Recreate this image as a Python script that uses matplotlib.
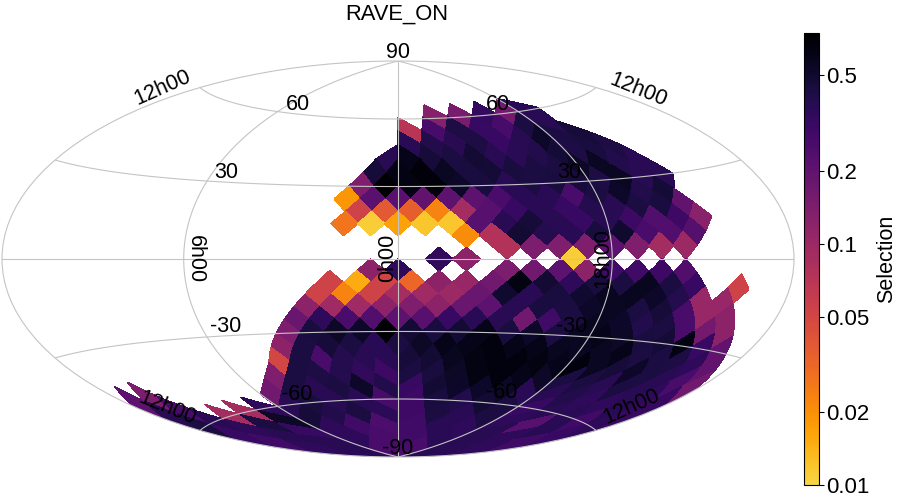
import numpy as np
import matplotlib
matplotlib.use('Agg')
import matplotlib.pyplot as plt
from matplotlib.collections import PolyCollection
from matplotlib.colors import LinearSegmentedColormap, LogNorm

plt.rcParams['font.family'] = ['Liberation Sans', 'DejaVu Sans']

N = 8
nan = float('nan')

# selection per healpix ring, read left to right across the map
# ring_first = index of the first filled pixel of that ring
ring_first = {5: 11, 6: 12, 7: 14, 8: 15, 9: 15, 10: 14, 11: 14, 12: 14, 13: 14, 14: 18, 15: 20, 16: 17,
              17: 15, 18: 13, 19: 13, 20: 12, 21: 12, 22: 11, 23: 11, 24: 10, 25: 0, 26: 0, 27: 0, 28: 0,
              29: 0, 30: 0, 31: 0}
ring_05 = [.13, .15, .33, .16, .37]
ring_06 = [.07, .27, .42, .32, .27, .44, .38]
ring_07 = [.37, .4, .38, .42, .32, .38, .52, .44, .46]
ring_08 = [.38, .6, .46, .44, .48, .38, .37, .4, .47, .42, .45, .42]
ring_09 = [.46, .62, .68, .56, .45, .47, .45, .44, .44, .54, .56, .40, .37]
ring_10 = [.14, .72, .64, .68, .52, .45, .38, .44, .45, .46, .42, .56, .38, .38]
ring_11 = [.019, .22, .22, .2, .21, .21, .26, .37, .37, .26, .44, .52, .4, .47]
ring_12 = [.053, .038, .035, .023, .09, .225, .32, .37, .32, .39, .38, .44, .45, .2]
ring_13 = [.027, .011, .017, .012, .012, .225, .38, .46, .38, .32, .38, .30, .24, .30, .125]
ring_14 = [.021, .075, .48, .39, .37, .45, .5, .26, .24, .23]
ring_15 = [.075, .145, .14, .14, .21, .14, .09, .1]
ring_16 = [.34, .12, nan, nan, nan, .011]
ring_17 = [.12, .35, nan, nan, nan, .145, .165, .21, .12, .29, .29, .30, .24]
ring_18 = [.053, .015, .053, .032, .12, .105, .165, .64, .48, .35, .45, .44, .57, .44, .32, nan, .053]
ring_19 = [.053, .023, .053, .087, .095, .1, .18, .5, .37, .45, .5, .57, .57, .52, .39, .105, .105]
ring_20 = [.12, .095, .095, .12, .14, .12, .18, .21, .38, .45, .44, .52, .56, .44, .46, .26, .105, .12]
ring_21 = [.18, .35, .26, .24, .21, .225, .32, .37, .38, .165, .29, .44, .57, .52, .4, .44, .26, .16, .12]
ring_22 = [.145, .45, .54, .52, .72, .48, .45, .48, .6, .45, .52, .44, .56, .6, .54, .45, .47, .62, .32, .2]
ring_23 = [.12, .44, .46, .44, .37, .44, .54, .6, .6, .66, .6, .6, .57, .56, .56, .6, .44, .44, .42, .35, .2]
ring_24 = [.05, .44, .26, .39, .38, .37, .46, .48, .57, .64, .66, .66, .64, .6, .66, .56, .46, .52, .44, .37, .26, .165]
ring_25 = [.21, .145, nan, nan, nan, nan, nan, nan, .14, .44, .42, .39, .34, .3, .44, .45, .54, .64, .66, .6, .54,
           .44, .44, .38, .44, .38, .35, .32]
ring_26 = [.38, .26, nan, nan, nan, nan, .165, .44, .38, .44, .52, .4, .32, .48, .52, .52, .54, .37, .38, .40, .35,
           .35, .37, .32]
ring_27 = [.44, .37, .09, .087, .35, .38, .45, .38, .38, .27, .3, .45, .40, .48, .44, .32, .38, .37, .29, .35]
ring_28 = [.32, .35, .44, .54, .46, .40, .44, .36, .3, .44, .37, .44, .35, .225, .37, .32]
ring_29 = [.29, .38, .32, .35, .29, .25, .29, .37, .35, .38, .35, .29]
ring_30 = [.35, .38, .35, .26, .29, .37, .38, .35]
ring_31 = [.37, .26, .26, .37]
rings = {5: ring_05, 6: ring_06, 7: ring_07, 8: ring_08, 9: ring_09, 10: ring_10, 11: ring_11, 12: ring_12,
         13: ring_13, 14: ring_14, 15: ring_15, 16: ring_16, 17: ring_17, 18: ring_18, 19: ring_19, 20: ring_20,
         21: ring_21, 22: ring_22, 23: ring_23, 24: ring_24, 25: ring_25, 26: ring_26, 27: ring_27, 28: ring_28,
         29: ring_29, 30: ring_30, 31: ring_31}

cbar_ticks = [0.01, 0.02, 0.05, 0.1, 0.2, 0.5]
cbar_labels = ['0.01', '0.02', '0.05', '0.1', '0.2', '0.5']


def plane_to_sky(xs, ys):
    # inverse healpix projection
    ay = np.abs(ys)
    lat = np.empty_like(ys)
    lon = xs.copy()
    eq = ay <= np.pi / 4
    lat[eq] = np.arcsin(8 * ys[eq] / (3 * np.pi))
    cap = ~eq
    sigma = 2 - 4 * ay[cap] / np.pi
    lat[cap] = np.sign(ys[cap]) * np.arcsin(np.clip(1 - sigma ** 2 / 3, -1, 1))
    xc = -3 * np.pi / 4 + np.floor((xs[cap] + np.pi) / (np.pi / 2)) * np.pi / 2
    den = ay[cap] - np.pi / 2
    den[np.abs(den) < 1e-9] = -1e-9
    lon[cap] = xs[cap] - (ay[cap] - np.pi / 4) / den * (xs[cap] - xc)
    return lon, lat


def ring_centres(i):
    iabs = min(i, 4 * N - i)
    ys = np.pi / 4 * (2 - i / N)
    if iabs < N:
        xs = [-3 * np.pi / 4 + q * np.pi / 2 + (j + 0.5 - iabs / 2) * np.pi / (2 * N) for q in range(4) for j in range(iabs)]
    elif (i - N) % 2 == 0:
        xs = [-np.pi + (k + 0.5) * np.pi / (2 * N) for k in range(4 * N)]
    else:
        xs = [-np.pi + k * np.pi / (2 * N) for k in range(4 * N)]
    return np.array(xs), ys


def outline(xc, yc, steps=6):
    h = np.pi / (4 * N)
    cx = [xc - h, xc, xc + h, xc, xc - h]
    cy = [yc, yc + h, yc, yc - h, yc]
    xs = np.concatenate([np.linspace(cx[e], cx[e + 1], steps, endpoint=False) for e in range(4)])
    ys = np.concatenate([np.linspace(cy[e], cy[e + 1], steps, endpoint=False) for e in range(4)])
    ys = np.clip(ys, -np.pi / 2, np.pi / 2)
    lon, lat = plane_to_sky(xs, ys)
    return np.column_stack([lon, lat])


polys = []
vals = []
for i, row in rings.items():
    xs, ys = ring_centres(i)
    for k, v in enumerate(row):
        if np.isnan(v):
            continue
        polys.append(outline(xs[k + ring_first[i]], ys))
        vals.append(v)

cmap = LinearSegmentedColormap.from_list('sel', plt.cm.inferno(np.linspace(0.9, 0, 256)))
norm = LogNorm(vmin=0.01, vmax=0.75)

W, H = 900, 500
fig = plt.figure(figsize=(W / 100, H / 100), dpi=100)
ax = fig.add_axes([2 / W, 1 - 458 / H, 792 / W, 398 / H], projection='hammer')
coll = PolyCollection(polys, array=np.array(vals), cmap=cmap, norm=norm, edgecolors='face', linewidths=0.3,
                      antialiaseds=False)
ax.add_collection(coll)

ax.set_longitude_grid(90)
ax.set_latitude_grid(30)
ax.set_longitude_grid_ends(90)
ax.grid(True, color='#c4c4c4', linewidth=0.8)
ax.set_axisbelow(False)
ax.set_xticklabels([])
ax.set_yticklabels([])
ax.spines['geo'].set_edgecolor('#c4c4c4')
ax.spines['geo'].set_linewidth(0.8)

grid_labels = [('90', 398, 52, 0), ('60', 298, 105, 0), ('60', 498, 104, 0), ('30', 226, 172, 0), ('30', 569, 173, 0),
               ('-30', 226, 327, 0), ('-30', 572, 326, 0), ('-60', 297, 394, 0), ('-60', 502, 393, 0), ('-90', 398, 448, 0),
               ('6h00', 195, 259, -90), ('0h00', 388, 258, 90), ('18h00', 603, 258, 90),
               ('12h00', 163, 88, 24), ('12h00', 638, 90, -22), ('12h00', 167, 408, -22), ('12h00', 632, 407, 24)]
for txt, px, py, rot in grid_labels:
    fig.text(px / W, 1 - py / H, txt, fontsize=15.5, rotation=rot, ha='center', va='center', color='black')

fig.text(397 / W, 1 - 14 / H, 'RAVE_ON', fontsize=15.8, ha='center', va='center')

cax = fig.add_axes([804 / W, 1 - 485 / H, 15 / W, 452 / H])
sm = plt.cm.ScalarMappable(norm=norm, cmap=cmap)
cbar = fig.colorbar(sm, cax=cax)
cbar.set_ticks(cbar_ticks)
cbar.set_ticklabels(cbar_labels)
cbar.ax.minorticks_off()
cbar.ax.tick_params(labelsize=16, length=3.5, width=0.8, pad=1.5)
cbar.set_label('Selection', fontsize=15.5, labelpad=5)

fig.savefig('out.png', dpi=100)
